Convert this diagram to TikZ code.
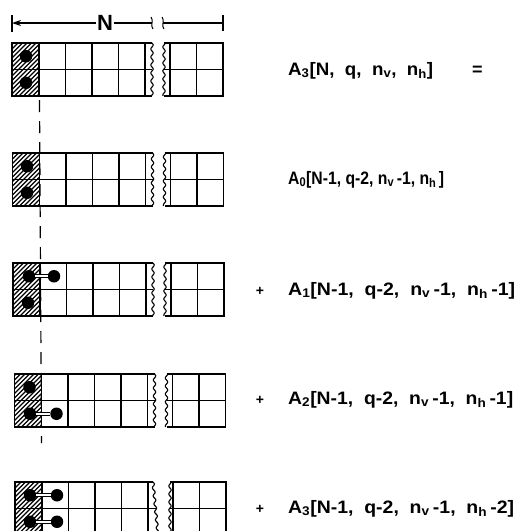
\documentclass[tikz,border=0pt]{standalone}
\usepackage{fontspec}
\setmainfont{Liberation Sans}
\usepackage{graphicx}
\usetikzlibrary{arrows.meta}
\newcommand{\stripgrid}[5]{%
\begin{scope}[shift={(#1,#2)}]
  \begin{scope}
    \clip (0,0) rectangle (27,53);
    \foreach \k in {-56,-51.5,...,30} \draw[hatchline] (\k,53) -- ++(56,-56);
  \end{scope}
  \draw[gridline] (#3,0) -- (0,0) -- (0,53) -- (#4,53);
  \draw[gridline] (0,26.5) -- ({(#3+#4)/2},26.5);
  \foreach \c in {27,53.5,80,106.5,133} \draw[gridline] (\c,0) -- (\c,53);
  \draw[tearline] plot[domain=0:53,samples=60,smooth] ({#3+(#4-#3)*\x/53+1.2*sin(\x*45)},\x);
  \draw[gridline] (#5,0) -- (211,0) -- (211,53) -- (#5,53);
  \draw[gridline] (#5,26.5) -- (211,26.5);
  \foreach \c in {158,184.5} \draw[gridline] (\c,0) -- (\c,53);
  \draw[tearline] plot[domain=0:53,samples=60,smooth] ({#5+1.2*sin(\x*45+90)},\x);
\end{scope}}
\begin{document}
\begin{tikzpicture}[x=1pt,y=-1pt,
  gridline/.style={line width=1.5pt},
  tearline/.style={line width=1.1pt},
  hatchline/.style={line width=1.3pt},
  dot/.style={circle,fill=black,inner sep=0pt,minimum size=12.5pt},
  link/.style={double,double distance=2pt,line width=0.8pt},
  lbl/.style={anchor=base west,inner sep=0pt,font=\fontsize{18}{20}\selectfont\bfseries},
  plus/.style={anchor=base,inner sep=0pt,font=\fontsize{14}{16}\selectfont\bfseries},
  dimline/.style={line width=1.2pt},
  dashline/.style={line width=1.2pt,dash pattern=on 12pt off 9pt}]
\useasboundingbox (0,0) rectangle (519,531);
\clip (0,0) rectangle (519,531);
% dimension line
\coordinate (dimL) at (12,23);
\coordinate (dimR) at (223,23);
\coordinate (brkA) at (152,23);
\coordinate (brkB) at (163,23);
\node[inner sep=1pt,font=\fontsize{22}{24}\selectfont\bfseries] (Nlab) at (105,23) {N};
\draw[dimline,-{Stealth[length=9pt,width=6pt]}] (Nlab) -- (dimL);
\draw[dimline] (Nlab) -- (brkA);
\draw[dimline] (brkB) -- (dimR);
\draw[dimline] ([shift={(0,-8)}]dimL) -- ([shift={(0,9)}]dimL);
\draw[dimline] ([shift={(0,-8)}]dimR) -- ([shift={(0,8)}]dimR);
\draw[line width=1pt] ([shift={(-1,-6)}]brkA) .. controls +(3,3) and +(-3,-3) .. ([shift={(1,6)}]brkA);
\draw[line width=1pt] ([shift={(-1,-6)}]brkB) .. controls +(3,3) and +(-3,-3) .. ([shift={(1,6)}]brkB);
% dashed guide
\coordinate (dtop) at (39.5,100);
\coordinate (dbot) at (41.5,443);
\draw[dashline] (dtop) -- (dbot);
% grids
\stripgrid{12}{43}{140}{140}{152}
\stripgrid{12.5}{153}{140}{140}{152}
\stripgrid{13}{263}{140}{140}{152}
\stripgrid{14.5}{374}{140}{140}{152}
\stripgrid{15}{482}{138}{143}{155}
% dots
\node[dot] (d1a) at (26,56.25) {};
\node[dot] (d1b) at (26,82.75) {};
\node[dot] (d2a) at (27,166.25) {};
\node[dot] (d2b) at (27,192.75) {};
\node[dot] (d3a) at (29,276.25) {};
\node[dot] (d3b) at (28,302.75) {};
\node[dot] (d3c) at (54,276.25) {};
\draw[link] (d3a) -- (d3c);
\node[dot] (d4a) at (29.5,387.25) {};
\node[dot] (d4b) at (30,413.75) {};
\node[dot] (d4c) at (56.5,413.75) {};
\draw[link] (d4b) -- (d4c);
\node[dot] (d5a) at (30,495.25) {};
\node[dot] (d5b) at (30,521.75) {};
\node[dot] (d5c) at (57,495.25) {};
\node[dot] (d5d) at (57,521.75) {};
\draw[link] (d5a) -- (d5c);
\draw[link] (d5b) -- (d5d);
% labels
\node[lbl] (t1) at (288,75) {\resizebox{145pt}{\height}{A\textsubscript{3}[N,\ \ q,\ \ n\textsubscript{v},\ \ n\textsubscript{h}]}};
\node[lbl] (eq) at (472,75) {=};
\node[lbl] (t2) at (288,184) {\resizebox{156pt}{\height}{A\textsubscript{0}[N-1,\ q-2,\ n\textsubscript{v}\,-1,\ n\textsubscript{h}\,]}};
\node[plus] (p3) at (260,295) {+};
\node[lbl] (t3) at (288,295) {\resizebox{227pt}{\height}{A\textsubscript{1}[N-1,\ \ q-2,\ \ n\textsubscript{v}\,-1,\ \ n\textsubscript{h}\,-1]}};
\node[plus] (p4) at (260,404) {+};
\node[lbl] (t4) at (288,404) {\resizebox{225pt}{\height}{A\textsubscript{2}[N-1,\ \ q-2,\ \ n\textsubscript{v}\,-1,\ \ n\textsubscript{h}\,-1]}};
\node[plus] (p5) at (260,513) {+};
\node[lbl] (t5) at (288,513) {\resizebox{226pt}{\height}{A\textsubscript{3}[N-1,\ \ q-2,\ \ n\textsubscript{v}\,-1,\ \ n\textsubscript{h}\,-2]}};
\end{tikzpicture}
\end{document}
